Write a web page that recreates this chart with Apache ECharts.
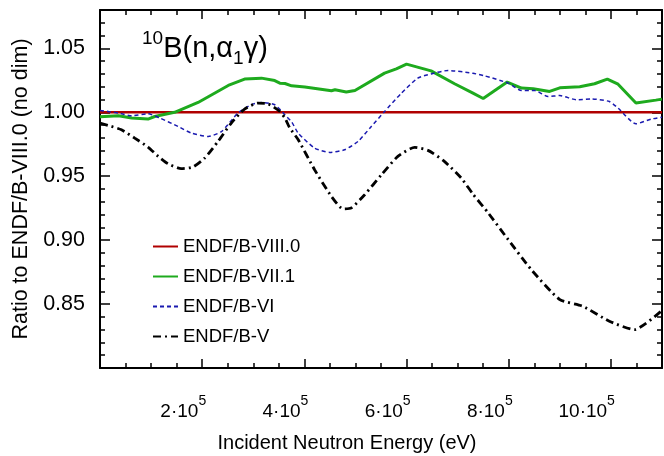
<!DOCTYPE html>
<html><head><meta charset="utf-8">
<script src="https://cdn.jsdelivr.net/npm/echarts@6/dist/echarts.min.js"></script>
<style>html,body{margin:0;padding:0;background:#fff}#c{width:664px;height:456px}</style>
</head><body><div id="c"></div>
<script>
// ---- data ----
const seriesNames = ['ENDF/B-VIII.0', 'ENDF/B-VII.1', 'ENDF/B-VI', 'ENDF/B-V'];
const xTickValues = [200000, 400000, 600000, 800000, 1000000];
const xTickMantissas = ['2', '4', '6', '8', '10'];
const xTickExponent = '5';
const yTickLabels = ['0.85', '0.90', '0.95', '1.00', '1.05'];
const xAxisTitle = 'Incident Neutron Energy (eV)';
const yAxisTitle = 'Ratio to ENDF/B-VIII.0 (no dim)';

const b80 = [[0, 1.0], [1100000, 1.0]];
const b71 = [[0, 0.9965], [36000, 0.9973], [62000, 0.9955], [94000, 0.9947], [107000, 0.9967],
  [146000, 1.000], [192000, 1.0077], [251000, 1.021], [283000, 1.026], [316000, 1.0267],
  [342000, 1.0248], [352000, 1.0228], [362000, 1.0225], [375000, 1.0207], [401000, 1.0197],
  [453000, 1.0168], [460000, 1.0176], [482000, 1.0158], [499000, 1.0170], [557000, 1.0306],
  [580000, 1.034], [600000, 1.0377], [648000, 1.0324], [694000, 1.0223], [730000, 1.015],
  [750000, 1.0108], [797000, 1.0236], [825000, 1.0189], [848000, 1.0184], [880000, 1.0163],
  [900000, 1.0191], [939000, 1.0199], [968000, 1.0223], [993000, 1.026], [1014000, 1.022],
  [1049000, 1.0072], [1088000, 1.0095], [1100000, 1.0103]];
const b6 = [[0, 1.0014], [18000, 1.0005], [36000, 0.9994], [62000, 0.9973], [94000, 0.9988],
  [117000, 0.9955], [153000, 0.9889], [179000, 0.9837], [212000, 0.9811], [238000, 0.985],
  [270000, 0.9994], [296000, 1.0059], [316000, 1.0077], [342000, 1.0059], [362000, 0.998],
  [375000, 0.9925], [388000, 0.9837], [420000, 0.972], [450000, 0.9686], [479000, 0.9707],
  [505000, 0.9772], [531000, 0.9889], [557000, 1.0006], [590000, 1.015], [622000, 1.0267],
  [648000, 1.030], [681000, 1.0327], [730000, 1.0305], [753000, 1.0285], [799000, 1.0228],
  [825000, 1.017], [851000, 1.017], [877000, 1.0123], [900000, 1.0131], [932000, 1.0098],
  [962000, 1.0105], [997000, 1.0084], [1014000, 1.0033], [1049000, 0.991], [1079000, 0.9947],
  [1100000, 0.9962]];
const b5 = [[0, 0.9916], [16000, 0.9897], [42000, 0.9863], [68000, 0.9798], [94000, 0.9728],
  [114000, 0.9655], [133000, 0.9598], [159000, 0.9559], [182000, 0.9572], [205000, 0.9642],
  [231000, 0.9772], [257000, 0.9916], [283000, 1.0025], [309000, 1.0072], [329000, 1.0066],
  [352000, 1.0006], [362000, 0.9955], [371000, 0.988], [388000, 0.9785], [420000, 0.9551],
  [453000, 0.9342], [476000, 0.9244], [492000, 0.9252], [518000, 0.9355], [551000, 0.9512],
  [583000, 0.9655], [616000, 0.9725], [642000, 0.9702], [674000, 0.9616], [707000, 0.9486],
  [730000, 0.936], [760000, 0.9212], [799000, 0.9004], [844000, 0.877], [900000, 0.8535],
  [945000, 0.8483], [997000, 0.8366], [1046000, 0.830], [1100000, 0.845]];

// ---- chart ----
const FONT = 'Liberation Sans';
const X_MIN = 0, X_MAX = 1100000, Y_MIN = 0.80, Y_MAX = 1.08;

function tickAxis(base, position, interval, len, showLine) {
  return Object.assign({
    type: 'value', position: position, interval: interval,
    axisLine: { show: showLine, onZero: false, lineStyle: { color: '#000', width: 2 } },
    axisTick: { show: true, inside: true, length: len, lineStyle: { color: '#000', width: 1.5 } },
    axisLabel: { show: false },
    splitLine: { show: false }
  }, base);
}
const xb = { min: X_MIN, max: X_MAX };
const yb = { min: Y_MIN, max: Y_MAX };

const chart = echarts.init(document.getElementById('c'), null, { renderer: 'canvas' });
const xMain = tickAxis(xb, 'bottom', 200000, 9, true);
xMain.axisLabel = {
  show: true, showMinLabel: false, showMaxLabel: false, align: 'right', margin: 26,
  padding: [0, -4, 0, 0],
  formatter: function (v) {
    const i = xTickValues.indexOf(Math.round(v));
    return i < 0 ? '' : '{m|' + xTickMantissas[i] + '·10}{s|' + xTickExponent + '}';
  },
  rich: {
    m: { fontSize: 19, fontFamily: FONT, color: '#000', lineHeight: 36 },
    s: { fontSize: 14, fontFamily: FONT, color: '#000', lineHeight: 8, verticalAlign: 'top' }
  }
};

const yMain = tickAxis(yb, 'left', 0.05, 10, true);
yMain.axisLabel = {
  show: true, showMinLabel: false, showMaxLabel: false, margin: 15,
  fontSize: 21.5, fontFamily: FONT, color: '#000',
  formatter: function (v) {
    const s = v.toFixed(2);
    return yTickLabels.indexOf(s) >= 0 ? s : '';
  }
};
yMain.name = yAxisTitle;
yMain.nameLocation = 'middle';
yMain.nameGap = 66;
yMain.nameTextStyle = { fontSize: 21.5, fontFamily: FONT, color: '#000' };

const option = {
  animation: false,
  backgroundColor: '#fff',
  grid: { left: 100, right: 2, top: 10, bottom: 88, containLabel: false },
  xAxis: [
    xMain,
    tickAxis(xb, 'bottom', 50000, 5, false),
    tickAxis(xb, 'top', 200000, 9, true),
    tickAxis(xb, 'top', 50000, 5, false)
  ],
  yAxis: [
    yMain,
    tickAxis(yb, 'left', 0.01, 5, false),
    tickAxis(yb, 'right', 0.05, 10, true),
    tickAxis(yb, 'right', 0.01, 5, false)
  ],
  legend: {
    orient: 'vertical', left: 147, top: 232, itemWidth: 25, itemHeight: 14, itemGap: 11,
    itemStyle: { opacity: 0 },
    textStyle: { fontSize: 18.5, fontFamily: FONT, color: '#000', lineHeight: 18 },
    data: seriesNames
  },
  graphic: [{
    type: 'text', left: 142, top: 29,
    style: {
      text: '{sup|10}{m|B(n,α}{sub|1}{m|γ)}',
      rich: {
        m: { fontSize: 29, fontFamily: FONT, fill: '#000', lineHeight: 39 },
        sup: { fontSize: 19, fontFamily: FONT, fill: '#000', lineHeight: 19, verticalAlign: 'top' },
        sub: { fontSize: 19, fontFamily: FONT, fill: '#000', lineHeight: 19, verticalAlign: 'bottom' }
      }
    }
  }, {
    type: 'text', x: 347, y: 433,
    style: { text: xAxisTitle, fontSize: 20, fontFamily: FONT, fill: '#000', textAlign: 'center', textVerticalAlign: 'top' }
  }],
  series: [
    { name: seriesNames[0], type: 'line', data: b80, symbol: 'none', xAxisIndex: 0, yAxisIndex: 0,
      lineStyle: { color: '#b00000', width: 2.5 }, itemStyle: { color: '#b00000' } },
    { name: seriesNames[1], type: 'line', data: b71, symbol: 'none', xAxisIndex: 0, yAxisIndex: 0,
      lineStyle: { color: '#1eaa1e', width: 3 }, itemStyle: { color: '#1eaa1e' } },
    { name: seriesNames[2], type: 'line', data: b6, symbol: 'none', xAxisIndex: 0, yAxisIndex: 0, smooth: 0.2,
      lineStyle: { color: '#1a1ab0', width: 1.5, type: [4, 3] }, itemStyle: { color: '#1a1ab0' } },
    { name: seriesNames[3], type: 'line', data: b5, symbol: 'none', xAxisIndex: 0, yAxisIndex: 0, smooth: 0.2,
      lineStyle: { color: '#000', width: 2.8, type: [8, 4, 2, 4] }, itemStyle: { color: '#000' } }
  ]
};
chart.setOption(option);
</script>
</body></html>
